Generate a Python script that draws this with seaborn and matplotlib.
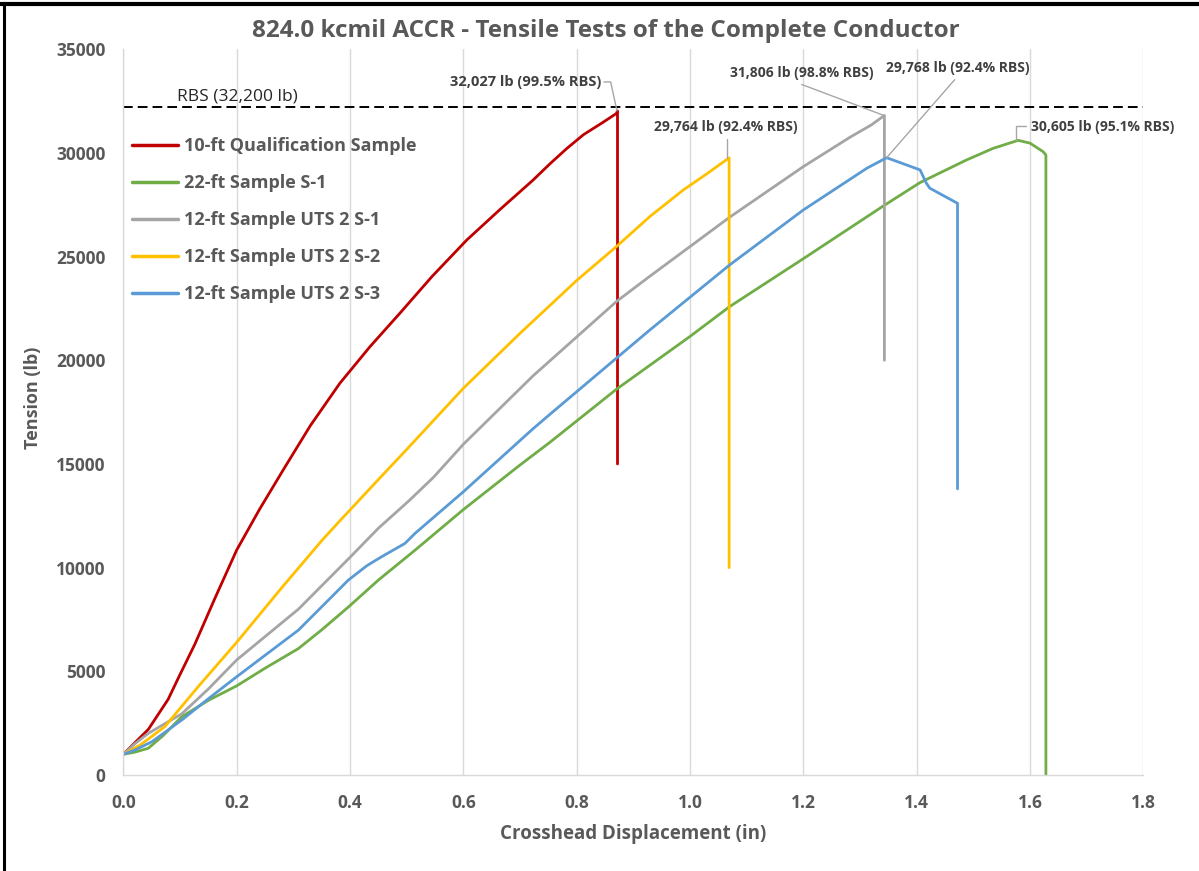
import numpy as np
import pandas as pd
import matplotlib
matplotlib.use("Agg")
import matplotlib.pyplot as plt
from matplotlib.lines import Line2D
import seaborn as sns

# ---------------- data ----------------
series_names = [
    "10-ft Qualification Sample",
    "22-ft Sample S-1",
    "12-ft Sample UTS 2 S-1",
    "12-ft Sample UTS 2 S-2",
    "12-ft Sample UTS 2 S-3",
]
series_colors = ["#C00000", "#70AD47", "#A5A5A5", "#FFC000", "#5B9BD5"]

red_x = [0.0, 0.02, 0.044, 0.079, 0.1, 0.126, 0.162, 0.2, 0.24, 0.282, 0.33, 0.382, 0.435,
         0.488, 0.545, 0.606, 0.665, 0.723, 0.753, 0.782, 0.812, 0.845, 0.870, 0.872, 0.872]
red_y = [1000, 1550, 2200, 3650, 4850, 6300, 8550, 10850, 12800, 14710, 16850, 18890, 20650,
         22270, 24050, 25800, 27280, 28690, 29480, 30200, 30880, 31450, 31900, 32027, 15000]

green_x = [0.0, 0.02, 0.044, 0.07, 0.103, 0.15, 0.2, 0.25, 0.309, 0.35, 0.397, 0.45, 0.515,
           0.6, 0.7, 0.753, 0.87, 1.0, 1.07, 1.2, 1.341, 1.406, 1.488, 1.535, 1.579, 1.60,
           1.623, 1.628, 1.628]
green_y = [1000, 1100, 1290, 1900, 2810, 3600, 4300, 5150, 6100, 7000, 8100, 9400, 10850,
           12800, 14950, 16050, 18600, 21150, 22590, 24900, 27440, 28570, 29660, 30220, 30605,
           30470, 30060, 29900, 0]

gray_x = [0.0, 0.02, 0.044, 0.103, 0.15, 0.2, 0.309, 0.4, 0.45, 0.503, 0.547, 0.6, 0.723,
          0.87, 0.929, 1.07, 1.2, 1.282, 1.32, 1.343, 1.343]
gray_y = [1000, 1500, 2010, 2950, 4150, 5550, 8000, 10500, 11900, 13200, 14350, 15950, 19250,
          22830, 24050, 26900, 29340, 30750, 31350, 31806, 20000]

yellow_x = [0.0, 0.03, 0.073, 0.132, 0.2, 0.28, 0.35, 0.38, 0.4, 0.45, 0.5, 0.6, 0.7, 0.753,
            0.8, 0.870, 0.929, 0.988, 1.03, 1.069, 1.069]
yellow_y = [1000, 1450, 2330, 4260, 6400, 9050, 11300, 12200, 12780, 14250, 15700, 18650,
            21300, 22650, 23850, 25480, 26930, 28210, 29000, 29764, 10000]

blue_x = [0.0, 0.02, 0.05, 0.103, 0.15, 0.2, 0.309, 0.397, 0.43, 0.456, 0.497, 0.515, 0.6,
          0.723, 0.753, 0.870, 0.929, 1.07, 1.2, 1.312, 1.347, 1.406, 1.417, 1.423, 1.472, 1.472]
blue_y = [1000, 1200, 1600, 2650, 3680, 4740, 6990, 9400, 10100, 10530, 11170, 11660, 13660,
          16700, 17400, 20100, 21460, 24600, 27250, 29260, 29768, 29180, 28540, 28300, 27570, 13800]

rbs_value = 32200
rbs_label = "RBS (32,200 lb)"

peak_labels = ["32,027 lb (99.5% RBS)", "29,764 lb (92.4% RBS)", "31,806 lb (98.8% RBS)",
               "29,768 lb (92.4% RBS)", "30,605 lb (95.1% RBS)"]

x_ticks = [0.0, 0.2, 0.4, 0.6, 0.8, 1.0, 1.2, 1.4, 1.6, 1.8]
y_ticks = [0, 5000, 10000, 15000, 20000, 25000, 30000, 35000]

title = "824.0 kcmil ACCR - Tensile Tests of the Complete Conductor"
x_label = "Crosshead Displacement (in)"
y_label = "Tension (lb)"

# ---------------- long table ----------------
xs = [red_x, green_x, gray_x, yellow_x, blue_x]
ys = [red_y, green_y, gray_y, yellow_y, blue_y]
frames = []
for name, x, y in zip(series_names, xs, ys):
    frames.append(pd.DataFrame({"disp": x, "tension": y, "sample": name}))
df = pd.concat(frames, ignore_index=True)

# ---------------- style ----------------
sns.set_theme(style="white")
plt.rcParams["font.family"] = ["Open Sans", "DejaVu Sans"]
TXT = "#595959"

fig = plt.figure(figsize=(11.99, 8.71), dpi=100)
ax = fig.add_axes([0.1029, 0.1102, 0.8507, 0.8333])

palette = dict(zip(series_names, series_colors))
sns.lineplot(data=df, x="disp", y="tension", hue="sample", hue_order=series_names,
             palette=palette, sort=False, estimator=None, units="sample",
             linewidth=2.0, ax=ax)

ax.set_xlim(0, 1.8)
ax.set_ylim(0, 35000)
ax.set_xticks(x_ticks)
ax.set_yticks(y_ticks)
ax.set_xticklabels([f"{v:.1f}" for v in x_ticks])
ax.set_yticklabels([f"{v:d}" for v in y_ticks])
ax.tick_params(axis="both", length=0, labelsize=12.5, colors=TXT)
ax.tick_params(axis="y", pad=13)
ax.tick_params(axis="x", pad=14)
for lab in ax.get_xticklabels() + ax.get_yticklabels():
    lab.set_fontweight("bold")

ax.xaxis.grid(True, color="#D9D9D9", linewidth=1.0)
ax.yaxis.grid(False)
ax.set_axisbelow(True)
for s in ["top", "right"]:
    ax.spines[s].set_visible(False)
ax.spines["left"].set_color("#D9D9D9")
ax.spines["bottom"].set_color("#D9D9D9")
ax.spines["left"].set_linewidth(1.0)
ax.spines["bottom"].set_linewidth(1.0)

ax.set_xlabel(x_label, fontsize=13.5, fontweight="bold", color=TXT)
ax.set_ylabel(y_label, fontsize=13, fontweight="bold", color=TXT)
ax.xaxis.set_label_coords(0.5, -0.068)
ax.yaxis.set_label_coords(-0.080, 0.52)

# RBS line
ax.axhline(rbs_value, color="black", linewidth=1.4, linestyle=(0, (5, 2.6)), zorder=1)
ax.text(0.0946, 32710, rbs_label, fontsize=12.5, color="#262626", ha="left", va="center")

# peak annotations (text + gray leader lines)
LC = "#A6A6A6"
AFS = 10
ACOL = "#404040"
# 32,027
ax.text(0.843, 33440, peak_labels[0], fontsize=AFS + 0.5, fontweight="bold", color=ACOL,
        ha="right", va="center")
ax.plot([0.848, 0.860, 0.871], [33420, 33420, 32027], color=LC, lw=1.0)
# 29,764
ax.text(1.063, 31270, peak_labels[1], fontsize=AFS, fontweight="bold", color=ACOL,
        ha="center", va="center")
ax.plot([1.066, 1.066], [30650, 29764], color=LC, lw=1.0)
# 31,806
ax.text(1.197, 33860, peak_labels[2], fontsize=AFS, fontweight="bold", color=ACOL,
        ha="center", va="center")
ax.plot([1.197, 1.342], [33300, 31806], color=LC, lw=1.0)
# 29,768
ax.text(1.472, 34100, peak_labels[3], fontsize=AFS, fontweight="bold", color=ACOL,
        ha="center", va="center")
ax.plot([1.467, 1.347], [33530, 29768], color=LC, lw=1.0)
# 30,605
ax.text(1.601, 31260, peak_labels[4], fontsize=AFS, fontweight="bold", color=ACOL,
        ha="left", va="center")
ax.plot([1.575, 1.575, 1.592], [30605, 31280, 31280], color=LC, lw=1.0)

# legend
handles, labels = ax.get_legend_handles_labels()
ax.legend(handles, labels, loc="upper left", bbox_to_anchor=(0.008, 0.879),
          frameon=False, handlelength=2.6, handletextpad=0.3,
          labelspacing=1.05, borderpad=0.0, borderaxespad=0.0,
          prop={"weight": "bold", "size": 13})
for t in ax.get_legend().get_texts():
    t.set_color(TXT)
for l in ax.get_legend().get_lines():
    l.set_linewidth(2.5)

# title
fig.text(0.5055, 1 - 31 / 871, title, fontsize=17.5, fontweight="bold", color=TXT,
         ha="center", va="center")

# figure border (top + left)
fig.add_artist(Line2D([0, 1], [1 - 4 / 871, 1 - 4 / 871], transform=fig.transFigure,
                      color="black", linewidth=3))
fig.add_artist(Line2D([3.5 / 1199, 3.5 / 1199], [0, 1 - 4 / 871], transform=fig.transFigure,
                      color="black", linewidth=2.2))

fig.savefig("out.png", dpi=100)
